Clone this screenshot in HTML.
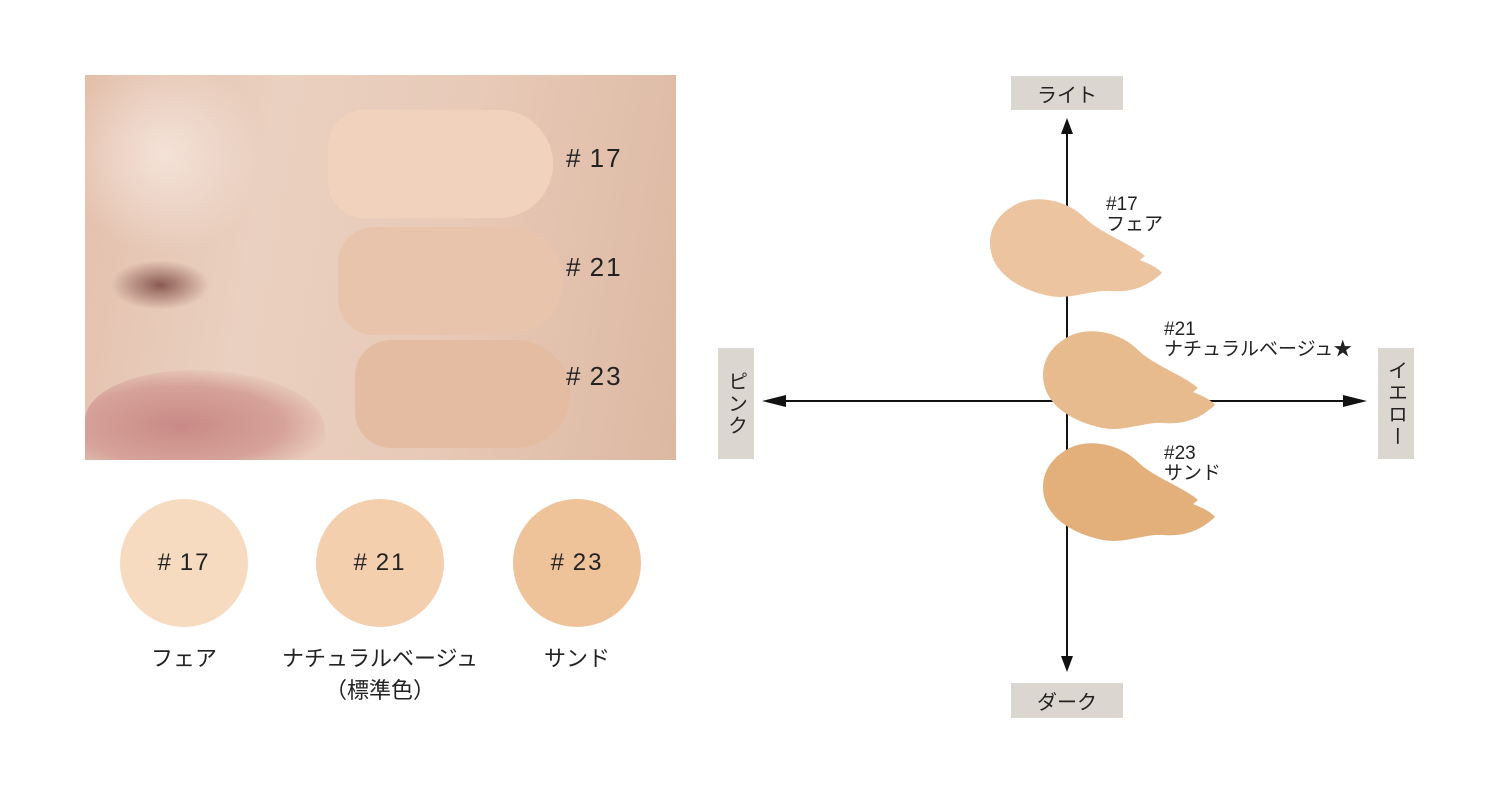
<!DOCTYPE html>
<html><head><meta charset="utf-8"><style>
body{margin:0;width:1500px;height:794px;background:#fff;position:relative;overflow:hidden;font-family:"Liberation Sans","Noto Sans CJK JP",sans-serif;color:#222}
.abs{position:absolute}
.photo{left:85px;top:75px;width:591px;height:385px;overflow:hidden;background:linear-gradient(100deg,#e3c0ac 0%,#ead0c0 30%,#e8cab8 60%,#dcb8a2 100%)}
.sw{position:absolute;border-radius:40px 60px 60px 40px}
.lbl{position:absolute;font-size:26px;color:#222;letter-spacing:2px}
.circ{position:absolute;width:128px;height:128px;border-radius:50%;top:499px;display:flex;align-items:center;justify-content:center;font-size:24px;letter-spacing:2px}
.cap{position:absolute;font-size:22px;text-align:center;width:240px;top:643px;line-height:32px}
.box{position:absolute;background:#dcd6d1;font-size:20px;display:flex;align-items:center;justify-content:center}
.vbox{writing-mode:vertical-rl;letter-spacing:2px}
.t{position:absolute;font-size:19px;line-height:20px}
</style></head><body>
<div class="abs photo">
  <div class="abs" style="left:-20px;top:-20px;width:200px;height:200px;border-radius:50%;background:radial-gradient(#f4e2d8,rgba(240,220,210,0) 70%)"></div>
  <div class="abs" style="left:25px;top:185px;width:100px;height:50px;border-radius:50%;background:radial-gradient(#8a5a52,rgba(200,150,130,0) 70%)"></div>
  <div class="abs" style="left:0;top:295px;width:240px;height:110px;border-radius:50% 60% 0 0;background:radial-gradient(ellipse at 40% 50%,#c98a86,#d6a29a 50%,rgba(220,180,165,0) 75%)"></div>
  <div class="sw" style="left:243px;top:35px;width:225px;height:108px;background:#f1d3bd"></div>
  <div class="sw" style="left:253px;top:152px;width:225px;height:108px;background:#e8c4ad"></div>
  <div class="sw" style="left:270px;top:265px;width:215px;height:108px;background:#e4bca2"></div>
  <div class="lbl" style="left:481px;top:68px">#&thinsp;17</div>
  <div class="lbl" style="left:481px;top:177px">#&thinsp;21</div>
  <div class="lbl" style="left:481px;top:286px">#&thinsp;23</div>
</div>
<div class="circ" style="left:120px;background:#f6dbc1">#&thinsp;17</div>
<div class="circ" style="left:316px;background:#f3cfae">#&thinsp;21</div>
<div class="circ" style="left:513px;background:#efc39a">#&thinsp;23</div>
<div class="cap" style="left:64px">フェア</div>
<div class="cap" style="left:260px">ナチュラルベージュ<br>（標準色）</div>
<div class="cap" style="left:457px">サンド</div>

<svg class="abs" style="left:0;top:0" width="1500" height="794">
<defs>
<path id="sm" d="M20,10 C40,-5 75,0 95,20 C110,35 140,45 155,58 L150,62 C160,66 168,70 172,75 C160,86 145,95 120,93 C100,92 80,102 60,98 C30,92 0,75 0,45 C0,30 8,18 20,10 Z"/>
</defs>
<g stroke="#111" stroke-width="2" fill="#111">
<line x1="1067" y1="130" x2="1067" y2="660"/>
<line x1="775" y1="401" x2="1355" y2="401"/>
<polygon points="1067,118 1061,134 1073,134" stroke="none"/>
<polygon points="1067,672 1061,656 1073,656" stroke="none"/>
<polygon points="762,401 786,395 786,407" stroke="none"/>
<polygon points="1367,401 1343,395 1343,407" stroke="none"/>
</g>
<use href="#sm" x="990" y="198" fill="#ecc4a0"/>
<use href="#sm" x="1043" y="330" fill="#e8bb8e"/>
<use href="#sm" x="1043" y="442" fill="#e3b07c"/>
</svg>
<div class="box" style="left:1011px;top:76px;width:112px;height:34px">ライト</div>
<div class="box" style="left:1011px;top:683px;width:112px;height:35px">ダーク</div>
<div class="box vbox" style="left:718px;top:348px;width:36px;height:111px">ピンク</div>
<div class="box vbox" style="left:1378px;top:348px;width:36px;height:111px">イエロー</div>
<div class="t" style="left:1106px;top:195px">#17<br>フェア</div>
<div class="t" style="left:1164px;top:320px">#21<br>ナチュラルベージュ★</div>
<div class="t" style="left:1164px;top:444px">#23<br>サンド</div>
</body></html>
